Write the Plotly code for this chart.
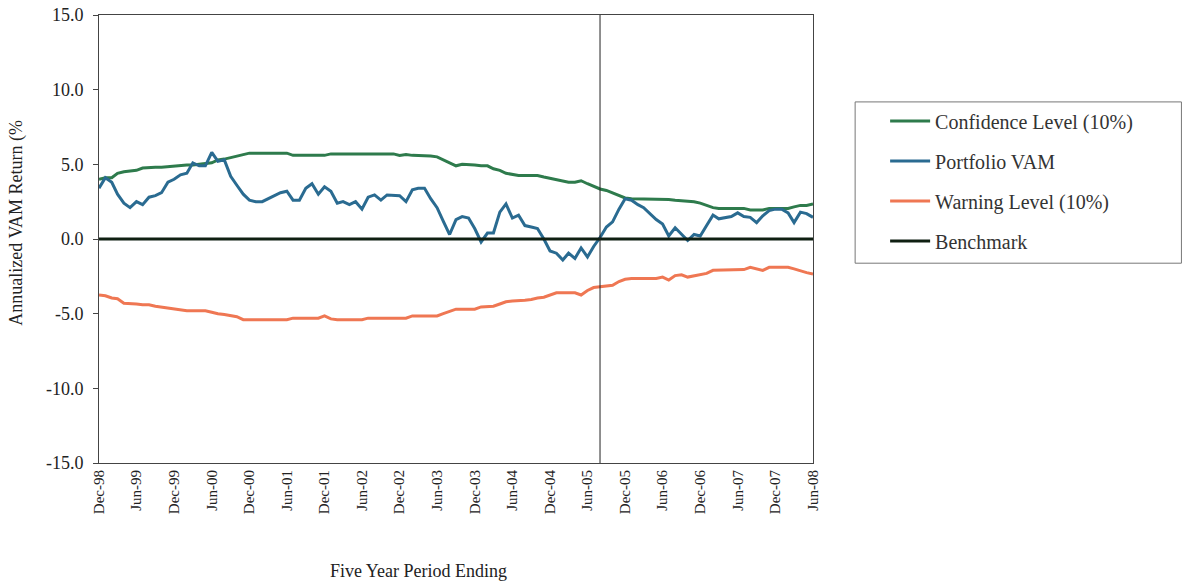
import pandas as pd
import plotly.graph_objects as go

months = pd.date_range("1998-12-01", "2008-06-01", freq="MS")

portfolio_vam = [3.4, 4.1, 3.8, 3.0, 2.4, 2.1, 2.5, 2.3, 2.8, 2.9, 3.1, 3.8, 4.0, 4.3, 4.4, 5.1, 4.9, 4.9, 5.8, 5.2,
                 5.3, 4.2, 3.6, 3.0, 2.6, 2.5, 2.5, 2.7, 2.9, 3.1, 3.2, 2.6, 2.6, 3.4, 3.7, 3.0, 3.5, 3.2, 2.4, 2.5,
                 2.3, 2.5, 2.0, 2.8, 2.95, 2.6, 2.95, 2.95, 2.9, 2.5, 3.3, 3.4, 3.4, 2.7, 2.1, 1.2, 0.3, 1.3, 1.5, 1.4,
                 0.7, -0.2, 0.4, 0.4, 1.8, 2.35, 1.4, 1.6, 0.9, 0.8, 0.7, 0.0, -0.8, -0.95, -1.4, -0.95, -1.3, -0.6, -1.2, -0.5,
                 0.1, 0.8, 1.15, 2.0, 2.7, 2.6, 2.3, 2.1, 1.7, 1.3, 1.0, 0.2, 0.75, 0.35, -0.1, 0.3, 0.2, 0.9, 1.6, 1.35,
                 1.45, 1.5, 1.75, 1.5, 1.45, 1.1, 1.55, 1.9, 2.0, 2.0, 1.75, 1.1, 1.8, 1.7, 1.45]

confidence_level = [4.0, 4.1, 4.1, 4.4, 4.5, 4.55, 4.6, 4.75, 4.8, 4.8, 4.8, 4.85, 4.9, 4.9, 4.95, 4.95, 5.0, 5.0, 5.1, 5.3,
                    5.35, 5.45, 5.55, 5.7, 5.75, 5.75, 5.75, 5.75, 5.75, 5.75, 5.75, 5.6, 5.6, 5.6, 5.6, 5.6, 5.6, 5.7, 5.7, 5.7,
                    5.7, 5.7, 5.7, 5.7, 5.7, 5.7, 5.7, 5.7, 5.6, 5.65, 5.6, 5.6, 5.6, 5.55, 5.5, 5.3, 5.1, 4.9, 5.0, 5.0,
                    4.95, 4.9, 4.9, 4.7, 4.6, 4.4, 4.3, 4.25, 4.25, 4.25, 4.25, 4.15, 4.05, 3.95, 3.85, 3.8, 3.8, 3.9, 3.7, 3.5,
                    3.35, 3.25, 3.1, 2.9, 2.75, 2.7, 2.7, 2.7, 2.7, 2.7, 2.7, 2.65, 2.6, 2.55, 2.55, 2.5, 2.4, 2.25, 2.1, 2.05,
                    2.05, 2.05, 2.05, 2.05, 1.95, 1.95, 1.95, 2.05, 2.05, 2.0, 2.05, 2.15, 2.25, 2.25, 2.35]

warning_level = [-3.75, -3.8, -3.95, -4.0, -4.3, -4.3, -4.35, -4.4, -4.4, -4.5, -4.55, -4.6, -4.7, -4.75, -4.8, -4.8, -4.8, -4.8, -4.9, -5.0,
                 -5.05, -5.15, -5.2, -5.4, -5.4, -5.4, -5.4, -5.4, -5.4, -5.4, -5.4, -5.3, -5.3, -5.3, -5.3, -5.3, -5.15, -5.35, -5.4, -5.4,
                 -5.4, -5.4, -5.4, -5.3, -5.3, -5.3, -5.3, -5.3, -5.3, -5.3, -5.15, -5.15, -5.15, -5.15, -5.15, -5.0, -4.85, -4.7, -4.7, -4.7,
                 -4.7, -4.55, -4.55, -4.5, -4.35, -4.2, -4.15, -4.15, -4.1, -4.05, -3.95, -3.9, -3.75, -3.6, -3.6, -3.6, -3.6, -3.75, -3.45, -3.25,
                 -3.2, -3.15, -3.1, -2.85, -2.7, -2.65, -2.65, -2.65, -2.65, -2.65, -2.55, -2.75, -2.45, -2.4, -2.55, -2.45, -2.4, -2.3, -2.1, -2.1,
                 -2.1, -2.1, -2.1, -2.05, -1.9, -2.0, -2.1, -1.9, -1.9, -1.9, -1.9, -2.0, -2.15, -2.25, -2.35]

benchmark = [0.0] * len(months)

tick_dates = pd.date_range("1998-12-01", "2008-06-01", freq="6MS")
tick_labels = [d.strftime("%b-%y") for d in tick_dates]
y_ticks = [-15, -10, -5, 0, 5, 10, 15]
y_tick_labels = ["-15.0", "-10.0", "-5.0", "0.0", "5.0", "10.0", "15.0"]
marker_date = "2005-08-01"

serif = "Liberation Serif, Times New Roman, serif"
txt = "#222222"

fig = go.Figure()
fig.add_trace(go.Scatter(x=months, y=confidence_level, mode="lines", name="Confidence Level (10%)",
                         line=dict(color="#2e7b4c", width=3), legendgroup="a"))
fig.add_trace(go.Scatter(x=months, y=portfolio_vam, mode="lines", name="Portfolio VAM",
                         line=dict(color="#2a6b91", width=3), legendgroup="b"))
fig.add_trace(go.Scatter(x=months, y=warning_level, mode="lines", name="Warning Level (10%)",
                         line=dict(color="#ef7753", width=3), legendgroup="c"))
fig.add_trace(go.Scatter(x=months, y=benchmark, mode="lines", name="Benchmark",
                         line=dict(color="#0f1f12", width=3), legendgroup="d"))

fig.add_shape(type="line", xref="x", yref="paper", x0=marker_date, x1=marker_date, y0=0, y1=1,
              line=dict(color="#222222", width=1))
# legend frame
fig.add_shape(type="rect", xref="paper", yref="paper", x0=1.059, x1=1.516, y0=0.446, y1=0.806,
              line=dict(color="#777777", width=1), fillcolor="rgba(0,0,0,0)")

fig.add_annotation(text="Annualized VAM Return (%", xref="paper", yref="paper", x=-0.115, y=0.536,
                   xanchor="center", yanchor="middle",
                   textangle=-90, showarrow=False, font=dict(family=serif, size=18, color=txt))
fig.add_annotation(text="Five Year Period Ending", xref="paper", yref="paper", x=0.447, y=-0.241,
                   xanchor="center", yanchor="middle",
                   showarrow=False, font=dict(family=serif, size=18, color=txt))

fig.update_layout(
    template="none",
    width=1184, height=584,
    margin=dict(l=99, r=371, t=15, b=121, autoexpand=False),
    paper_bgcolor="white", plot_bgcolor="white",
    font=dict(family=serif, color=txt),
    showlegend=True,
    legend=dict(x=1.101, y=0.807, xanchor="left", yanchor="top", bgcolor="rgba(0,0,0,0)",
                font=dict(family=serif, size=20, color="#333333"), tracegroupgap=11,
                traceorder="grouped", itemwidth=40, borderwidth=0),
    xaxis=dict(type="date", range=["1998-12-01", "2008-06-01"], tickvals=tick_dates, ticktext=tick_labels,
               tickangle=-90, tickfont=dict(family=serif, size=15, color=txt), showgrid=False, automargin=False,
               showline=True, linecolor="#444444", linewidth=1, mirror=True, ticks="", zeroline=False),
    yaxis=dict(range=[-15, 15], tickvals=y_ticks, ticktext=y_tick_labels, showgrid=False, zeroline=False,
               tickfont=dict(family=serif, size=18, color=txt), automargin=False, ticklabelstandoff=6,
               ticklabeloverflow="allow",
               showline=True, linecolor="#444444", linewidth=1, mirror=True, ticks="outside", ticklen=5,
               tickcolor="#444444"),
)

fig.write_html("out.html", config={"displayModeBar": False},
               post_script="document.body.style.margin='0';document.body.style.padding='0';")
